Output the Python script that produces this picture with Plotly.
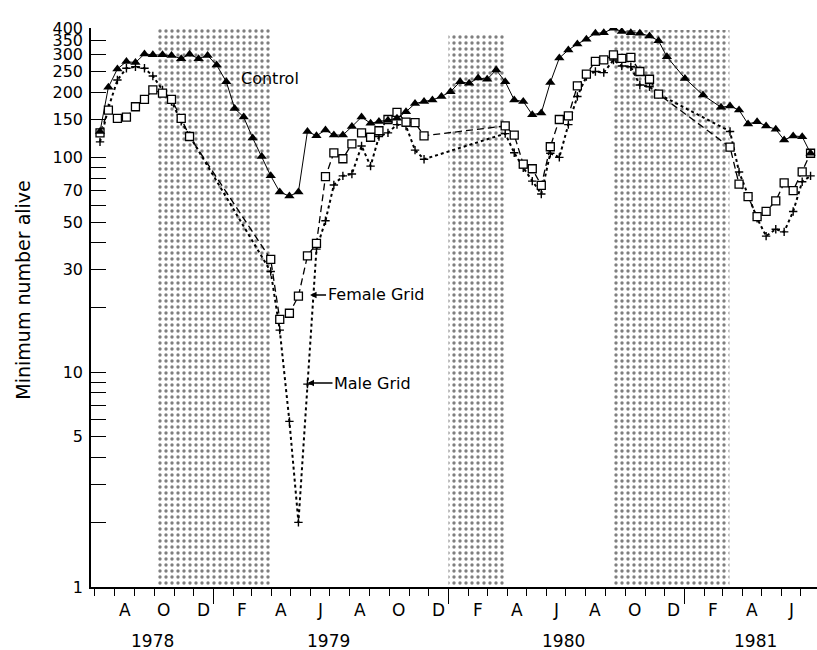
import math
import plotly.graph_objects as go

# ---- data -------------------------------------------------------------
dates = [
    "1978-07-09", "1978-07-22", "1978-08-05", "1978-08-19", "1978-09-02", "1978-09-16",
    "1978-09-29", "1978-10-14", "1978-10-28", "1978-11-12", "1978-11-25", "1978-12-09",
    "1978-12-23", "1979-01-06", "1979-01-21", "1979-02-03", "1979-02-17", "1979-03-03",
    "1979-03-17", "1979-03-31", "1979-04-14", "1979-04-29", "1979-05-13", "1979-05-27",
    "1979-06-10", "1979-06-24", "1979-07-07", "1979-07-21", "1979-08-04", "1979-08-19",
    "1979-09-02", "1979-09-15", "1979-09-29", "1979-10-13", "1979-10-27", "1979-11-10",
    "1979-11-24", "1979-12-07", "1979-12-21", "1980-01-04", "1980-01-19", "1980-02-02",
    "1980-02-16", "1980-03-01", "1980-03-15", "1980-03-29", "1980-04-12", "1980-04-26",
    "1980-05-10", "1980-05-24", "1980-06-07", "1980-06-21", "1980-07-05", "1980-07-19",
    "1980-08-02", "1980-08-16", "1980-08-29", "1980-09-13", "1980-09-26", "1980-10-10",
    "1980-10-24", "1980-11-08", "1980-11-22", "1980-12-05", "1981-01-02", "1981-01-30",
    "1981-02-27", "1981-03-13", "1981-03-27", "1981-04-10", "1981-04-24", "1981-05-08",
    "1981-05-23", "1981-06-05", "1981-06-19", "1981-07-03", "1981-07-16",
]

control = [
    132, 212, 258, 279, 276, 303,
    300, 300, 298, 288, 302, 288,
    298, 269, 225, 169, 154, 123,
    101, 82, 69, 66, 69, 132,
    126, 134, 127, 127, 139, 154,
    144, 147, 149, 152, 163, 178,
    182, 185, 192, 202, 225, 221,
    234, 231, 255, 225, 185, 182,
    158, 161, 223, 290, 316, 337,
    355, 378, 380, 399, 385, 380,
    378, 367, 349, 294, 233, 195,
    171, 173.5, 166, 143, 146.6, 140,
    135, 120.5, 125.8, 124.8, 104.5,
]

female = [
    130, 166, 152, 154, 172, 186,
    206, 199, 186, 152, 125, None,
    None, None, None, None, None, None,
    None, 33.5, 17.6, 18.8, 22.6, 34.8,
    39.8, 81.3, 105, 98.5, 115.5, 130,
    124, 133, 150, 162, 146, 145,
    126, None, None, None, None, None,
    None, None, None, 140, 127, 93,
    88.5, 74, 112, 150, 156, 215,
    244, 280, 284, 300, 289, 292,
    251, 231, 197, None, None, None,
    None, 111.5, 75, 65.6, 53, 56,
    62.7, 76, 70, 85.5, 104.5,
]

male = [
    118, 170, 229, 260, 264, 260,
    239, 206, 182, 147, 126, None,
    None, None, None, None, None, None,
    None, 29.4, 15.7, 5.9, 2.0, 8.8,
    37.4, 50.7, 74.4, 82, 83.7, 113,
    91, 125, 130, 142, 140, 108,
    98, None, None, None, None, None,
    None, None, None, 129, 105, 89.5,
    77.5, 67.5, 104.5, 100, 142, 192,
    238, 251, 248, 284, 266, 264,
    217, 213, 197, None, None, None,
    None, 132, 85.5, 66, 52, 43,
    46.3, 45, 56, 77, 82,
]

# shaded (winter) periods
winter_start = ["1978-10-07", "1980-01-01", "1980-09-13"]
winter_end = ["1979-03-30", "1980-03-30", "1981-03-12"]
winter_top = [396, 379, 392]

# axis labels
y_tickvals = [1, 2, 3, 4, 5, 6, 7, 8, 9, 10, 20, 30, 40, 50, 60, 70, 80, 90,
              100, 150, 200, 250, 300, 350, 400]
y_ticktext = ["1", "", "", "", "5", "", "", "", "", "10", "", "30", "", "50", "",
              "70", "", "", "100", "150", "200", "250", "300", "350", "400"]

month_label_dates = [
    "1978-08-16", "1978-10-16", "1978-12-16", "1979-02-15", "1979-04-16", "1979-06-16",
    "1979-08-16", "1979-10-16", "1979-12-16", "1980-02-15", "1980-04-16", "1980-06-16",
    "1980-08-16", "1980-10-16", "1980-12-16", "1981-02-15", "1981-04-16", "1981-06-16",
]
month_letters = ["A", "O", "D", "F", "A", "J", "A", "O", "D", "F", "A", "J",
                 "A", "O", "D", "F", "A", "J"]

year_label_dates = ["1978-09-28", "1979-06-28", "1980-06-27", "1981-04-21"]
year_labels = ["1978", "1979", "1980", "1981"]

year_bounds = ["1979-01-01", "1980-01-01", "1981-01-01"]

FONT = "DejaVu Sans"

# ---- figure -----------------------------------------------------------
fig = go.Figure()

px, py = [], []
for s, e, t in zip(winter_start, winter_end, winter_top):
    px += [s, s, e, e, s, None]
    py += [1, t, t, 1, 1, None]

fig.add_trace(go.Scatter(
    x=px, y=py, mode="lines", line=dict(width=0, color="rgba(0,0,0,0)"),
    fill="toself", fillcolor="white",
    fillpattern=dict(shape=".", size=6, solidity=0.25, fgcolor="black", bgcolor="white"),
    hoverinfo="skip", showlegend=False,
))

fig.add_trace(go.Scatter(
    x=dates, y=male, mode="lines+markers", connectgaps=True, name="Male Grid",
    line=dict(color="black", width=2, dash="dot"),
    marker=dict(symbol="cross-thin", size=6, line=dict(color="black", width=1.4)),
    showlegend=False,
))

fig.add_trace(go.Scatter(
    x=dates, y=female, mode="lines+markers", connectgaps=True, name="Female Grid",
    line=dict(color="black", width=1.3, dash="7px,4px"),
    marker=dict(symbol="square", size=8, color="white", line=dict(color="black", width=1.3)),
    showlegend=False,
))

fig.add_trace(go.Scatter(
    x=dates, y=control, mode="lines+markers", connectgaps=True, name="Control",
    line=dict(color="black", width=1),
    marker=dict(symbol="triangle-up", size=9, color="black"),
    showlegend=False,
))

annotations = []
for d, t in zip(month_label_dates, month_letters):
    annotations.append(dict(x=d, y=-0.041, xref="x", yref="paper", text=t,
                            showarrow=False, xanchor="center", yanchor="middle",
                            font=dict(size=17, family=FONT, color="black")))
for d, t in zip(year_label_dates, year_labels):
    annotations.append(dict(x=d, y=-0.0966, xref="x", yref="paper", text=t,
                            showarrow=False, xanchor="center", yanchor="middle",
                            font=dict(size=17, family=FONT, color="black")))

annotations.append(dict(x=-0.093, y=0.531, xref="paper", yref="paper",
                        text="Minimum number alive", textangle=-90, showarrow=False,
                        xanchor="center", yanchor="middle",
                        font=dict(size=19, family=FONT, color="black")))
annotations.append(dict(x=0.2039, y=0.9088, xref="paper", yref="paper", text="Control",
                        showarrow=False, xanchor="left", yanchor="middle",
                        font=dict(size=16, family=FONT, color="black")))
annotations.append(dict(x=0.3017, y=0.5224, xref="paper", yref="paper", text="Female Grid",
                        showarrow=True, ax=16, ay=0, xanchor="left", yanchor="middle",
                        arrowhead=2, arrowsize=1, arrowwidth=1.3, arrowcolor="black",
                        font=dict(size=16, family=FONT, color="black")))
annotations.append(dict(x=0.2982, y=0.3649, xref="paper", yref="paper", text="Male Grid",
                        showarrow=True, ax=25, ay=0, xanchor="left", yanchor="middle",
                        arrowhead=2, arrowsize=1, arrowwidth=1.3, arrowcolor="black",
                        font=dict(size=16, family=FONT, color="black")))

fig.update_layout(
    width=817, height=650,
    margin=dict(l=91, r=0, t=28, b=63),
    paper_bgcolor="white", plot_bgcolor="white",
    font=dict(family=FONT, color="black"),
    showlegend=False,
    annotations=annotations,
    xaxis=dict(
        type="date", range=["1978-06-25", "1981-07-26"],
        showline=True, linecolor="black", linewidth=1.5, mirror=False,
        showgrid=False, zeroline=False,
        tickmode="array", tickvals=year_bounds, ticktext=["", "", ""],
        ticks="outside", ticklen=15, tickwidth=1.3, tickcolor="black",
        minor=dict(tickmode="linear", tick0="1978-07-01", dtick="M1",
                   ticks="outside", ticklen=7, tickwidth=1.3, tickcolor="black",
                   showgrid=False),
    ),
    yaxis=dict(
        type="log", range=[0, math.log10(400)],
        showline=True, linecolor="black", linewidth=1.5,
        showgrid=False, zeroline=False,
        tickmode="array", tickvals=y_tickvals, ticktext=y_ticktext,
        ticks="inside", ticklen=15, tickwidth=1.3, tickcolor="black",
        ticklabelstandoff=3,
        tickfont=dict(size=16, family=FONT, color="black"),
    ),
)

fig.write_html("out.html")
